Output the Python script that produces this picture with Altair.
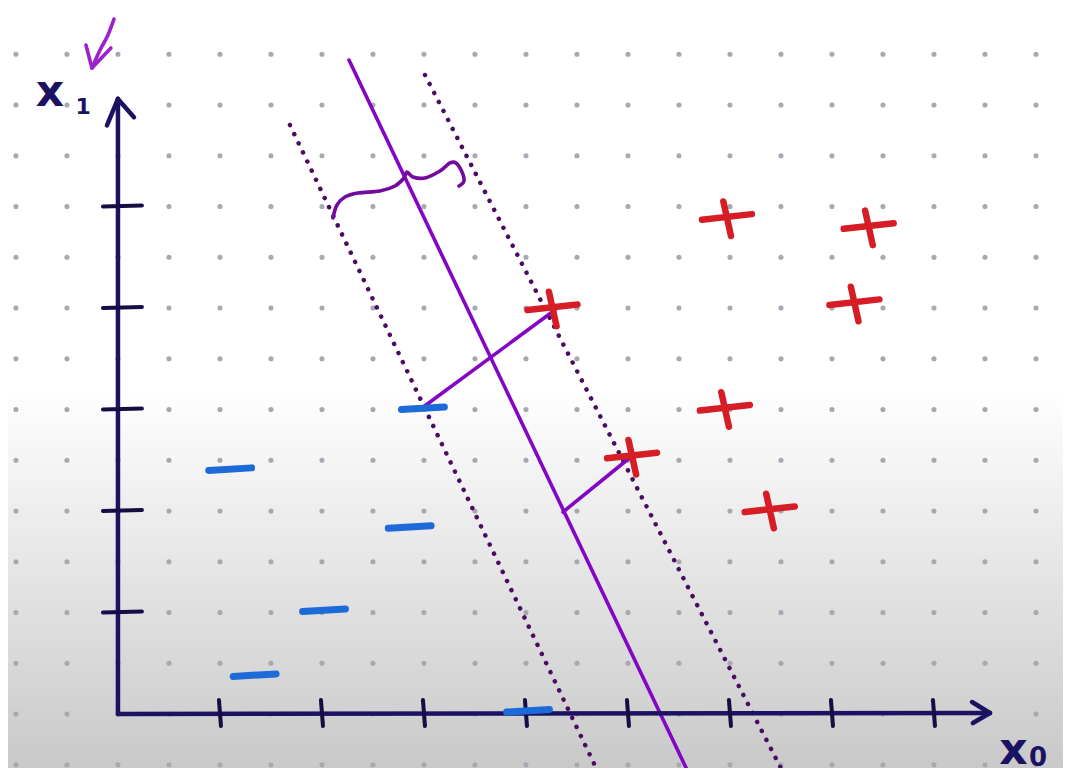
import altair as alt
import pandas as pd

# ---------------- data (tick units: x0 horizontal, x1 vertical) ----------------
minus_x = [1.10, 1.34, 2.02, 2.86, 2.99, 4.02]
minus_y = [2.41, 0.38, 1.02, 1.84, 3.01, 0.03]

plus_x = [4.26, 5.04, 5.97, 7.36, 7.22, 5.95, 6.39]
plus_y = [4.00, 2.54, 4.89, 4.80, 4.05, 3.01, 2.01]

x_ticks = [1, 2, 3, 4, 5, 6, 7, 8]
y_ticks = [1, 2, 3, 4, 5]

# decision boundary and the two margin lines (end points)
boundary_x = [2.265, 5.608]
boundary_y = [6.443, -0.611]
margin_neg_x = [1.686, 4.725]
margin_neg_y = [5.803, -0.611]
margin_pos_x = [3.010, 6.539]
margin_pos_y = [6.296, -0.611]

# distance segments: support vector -> boundary
dist_start_x = [2.980, 5.039]
dist_start_y = [3.015, 2.542]
dist_end_x = [4.284, 4.363]
dist_end_y = [3.980, 1.990]

# curly brace marking the margin
brace_x = [2.108, 2.147, 2.225, 2.353, 2.569, 2.716, 2.804, 2.833,
           2.892, 3.010, 3.157, 3.255, 3.314, 3.373, 3.392, 3.343]
brace_y = [4.887, 5.015, 5.094, 5.133, 5.153, 5.202, 5.281, 5.340,
           5.291, 5.281, 5.350, 5.429, 5.429, 5.340, 5.251, 5.202]

# axis arrows
axis_tip_x = [0.0, 8.549]
axis_tip_y = [6.06, 0.01]
arrow_arm_x = [[-0.108, 0.157], [8.373, 8.382]]
arrow_arm_y = [[5.80, 5.88], [0.118, -0.089]]

# pink pointer arrow near the x1 label
pointer_x = [-0.039, -0.098, -0.176, -0.255]
pointer_y = [6.847, 6.690, 6.542, 6.365]
pointer_arm_x = [-0.314, -0.069]
pointer_arm_y = [6.591, 6.562]

# dot-grid background
grid_cols = [-1.0, -0.5, 0.0, 0.5, 1.0, 1.5, 2.0, 2.5, 3.0, 3.5, 4.0, 4.5,
             5.0, 5.5, 6.0, 6.5, 7.0, 7.5, 8.0, 8.5, 9.0]
grid_rows = [-0.5, 0.0, 0.5, 1.0, 1.5, 2.0, 2.5, 3.0, 3.5, 4.0, 4.5,
             5.0, 5.5, 6.0, 6.5]

# labels
labels_text = ["x", "1", "x", "0"]
labels_x = [-0.667, -0.34, 8.78, 9.02]
labels_y = [6.12, 5.98, -0.36, -0.43]
labels_size = [44, 22, 44, 26]

# ---------------- chart ----------------
W, H = 1055, 760
xs = alt.Scale(domain=[-1.078, 9.265], nice=False, zero=False)
ys = alt.Scale(domain=[-0.532, 6.956], nice=False, zero=False)

NAVY = "#1b1262"
PURPLE = "#8406c4"
DOTPURPLE = "#4b0b63"
BLUE = "#1d6bd9"
RED = "#d61d26"


def X(f):
    return alt.X(f, type="quantitative", scale=xs, axis=None)


def Y(f):
    return alt.Y(f, type="quantitative", scale=ys, axis=None)


def seg_chart(df, **mark):
    return alt.Chart(df).mark_rule(clip=True, strokeCap="round", **mark).encode(
        x=X("x"), y=Y("y"), x2="x2:Q", y2="y2:Q")


bg = alt.Chart(pd.DataFrame({"a": [0]})).mark_rect(
    fill=alt.LinearGradient(
        gradient="linear",
        stops=[alt.GradientStop(color="#ffffff", offset=0),
               alt.GradientStop(color="#ffffff", offset=0.5),
               alt.GradientStop(color="#c9c9c9", offset=1)],
        x1=0, x2=0, y1=0, y2=1),
    stroke=None,
).encode(x=alt.value(0), x2=alt.value(W), y=alt.value(0), y2=alt.value(H))

grid_df = pd.DataFrame([(c, r) for c in grid_cols for r in grid_rows], columns=["x", "y"])
dots = alt.Chart(grid_df).mark_circle(size=26, color="#a7a8b2", opacity=1, clip=True).encode(
    x=X("x"), y=Y("y"))

margins_df = pd.DataFrame({
    "x": [margin_neg_x[0], margin_pos_x[0]], "y": [margin_neg_y[0], margin_pos_y[0]],
    "x2": [margin_neg_x[1], margin_pos_x[1]], "y2": [margin_neg_y[1], margin_pos_y[1]]})
margins = seg_chart(margins_df, color=DOTPURPLE, strokeWidth=4.5, strokeDash=[0.1, 10])

boundary_df = pd.DataFrame({"x": [boundary_x[0]], "y": [boundary_y[0]],
                            "x2": [boundary_x[1]], "y2": [boundary_y[1]]})
boundary = seg_chart(boundary_df, color=PURPLE, strokeWidth=3.6)

dist_df = pd.DataFrame({"x": dist_start_x, "y": dist_start_y, "x2": dist_end_x, "y2": dist_end_y})
dist = seg_chart(dist_df, color=PURPLE, strokeWidth=3.6)

brace_df = pd.DataFrame({"x": brace_x, "y": brace_y, "i": list(range(len(brace_x)))})
brace = alt.Chart(brace_df).mark_line(color="#720a9e", strokeWidth=3.6, interpolate="cardinal",
                                      strokeCap="round", strokeJoin="round").encode(
    x=X("x"), y=Y("y"), order="i:Q")

axes_df = pd.DataFrame({"x": [0, 0], "y": [0, 0], "x2": axis_tip_x, "y2": axis_tip_y})
axes = seg_chart(axes_df, color=NAVY, strokeWidth=4.5)

arm_rows = []
for k in range(2):
    for j in range(2):
        arm_rows.append((arrow_arm_x[k][j], arrow_arm_y[k][j], axis_tip_x[k], axis_tip_y[k]))
arms = seg_chart(pd.DataFrame(arm_rows, columns=["x", "y", "x2", "y2"]), color=NAVY, strokeWidth=4.5)

ytk = alt.Chart(pd.DataFrame({"t": y_ticks})).transform_calculate(
    x="-0.147", x2="0.235", y="datum.t", y2="datum.t + 0.01").mark_rule(
    color="#160d45", strokeWidth=4, strokeCap="round").encode(
    x=X("x"), y=Y("y"), x2="x2:Q", y2="y2:Q")
xtk = alt.Chart(pd.DataFrame({"t": x_ticks})).transform_calculate(
    x="datum.t - 0.01", x2="datum.t + 0.01", y="0.138", y2="-0.118").mark_rule(
    color="#160d45", strokeWidth=4, strokeCap="round").encode(
    x=X("x"), y=Y("y"), x2="x2:Q", y2="y2:Q")

minus = alt.Chart(pd.DataFrame({"cx": minus_x, "cy": minus_y})).transform_calculate(
    x="datum.cx - 0.21", x2="datum.cx + 0.21", y="datum.cy - 0.01", y2="datum.cy + 0.015").mark_rule(
    color=BLUE, strokeWidth=7, strokeCap="round").encode(
    x=X("x"), y=Y("y"), x2="x2:Q", y2="y2:Q")

plus_df = pd.DataFrame({"cx": plus_x, "cy": plus_y})
plus_h = alt.Chart(plus_df).transform_calculate(
    x="datum.cx - 0.245", x2="datum.cx + 0.245", y="datum.cy - 0.02", y2="datum.cy + 0.035").mark_rule(
    color=RED, strokeWidth=6.5, strokeCap="round").encode(
    x=X("x"), y=Y("y"), x2="x2:Q", y2="y2:Q")
plus_v = alt.Chart(plus_df).transform_calculate(
    x="datum.cx - 0.035", x2="datum.cx + 0.04", y="datum.cy + 0.16", y2="datum.cy - 0.18").mark_rule(
    color=RED, strokeWidth=6.5, strokeCap="round").encode(
    x=X("x"), y=Y("y"), x2="x2:Q", y2="y2:Q")

pointer_df = pd.DataFrame({"x": pointer_x, "y": pointer_y, "i": list(range(len(pointer_x)))})
pointer = alt.Chart(pointer_df).mark_line(color="#9b22cc", strokeWidth=3.6, interpolate="monotone",
                                          strokeCap="round").encode(
    x=X("x"), y=Y("y"), order="i:Q")
pointer_arms = seg_chart(pd.DataFrame({"x": pointer_arm_x, "y": pointer_arm_y,
                                       "x2": [pointer_x[-1]] * 2, "y2": [pointer_y[-1]] * 2}),
                         color="#9b22cc", strokeWidth=3.6)

labels = alt.Chart(pd.DataFrame({"t": labels_text, "x": labels_x, "y": labels_y,
                                 "s": labels_size})).mark_text(
    font="DejaVu Sans", fontWeight="bold", color=NAVY, align="center", baseline="middle").encode(
    x=X("x"), y=Y("y"), text="t:N", size=alt.Size("s:Q", scale=None, legend=None))

chart = alt.layer(
    bg, dots, margins, boundary, dist, brace, axes, arms, ytk, xtk,
    minus, plus_h, plus_v, pointer, pointer_arms, labels
).properties(width=W, height=H, padding=0, background="white").configure_view(strokeWidth=0)

chart.save("out.html", embed_options={"renderer": "svg", "actions": False})
